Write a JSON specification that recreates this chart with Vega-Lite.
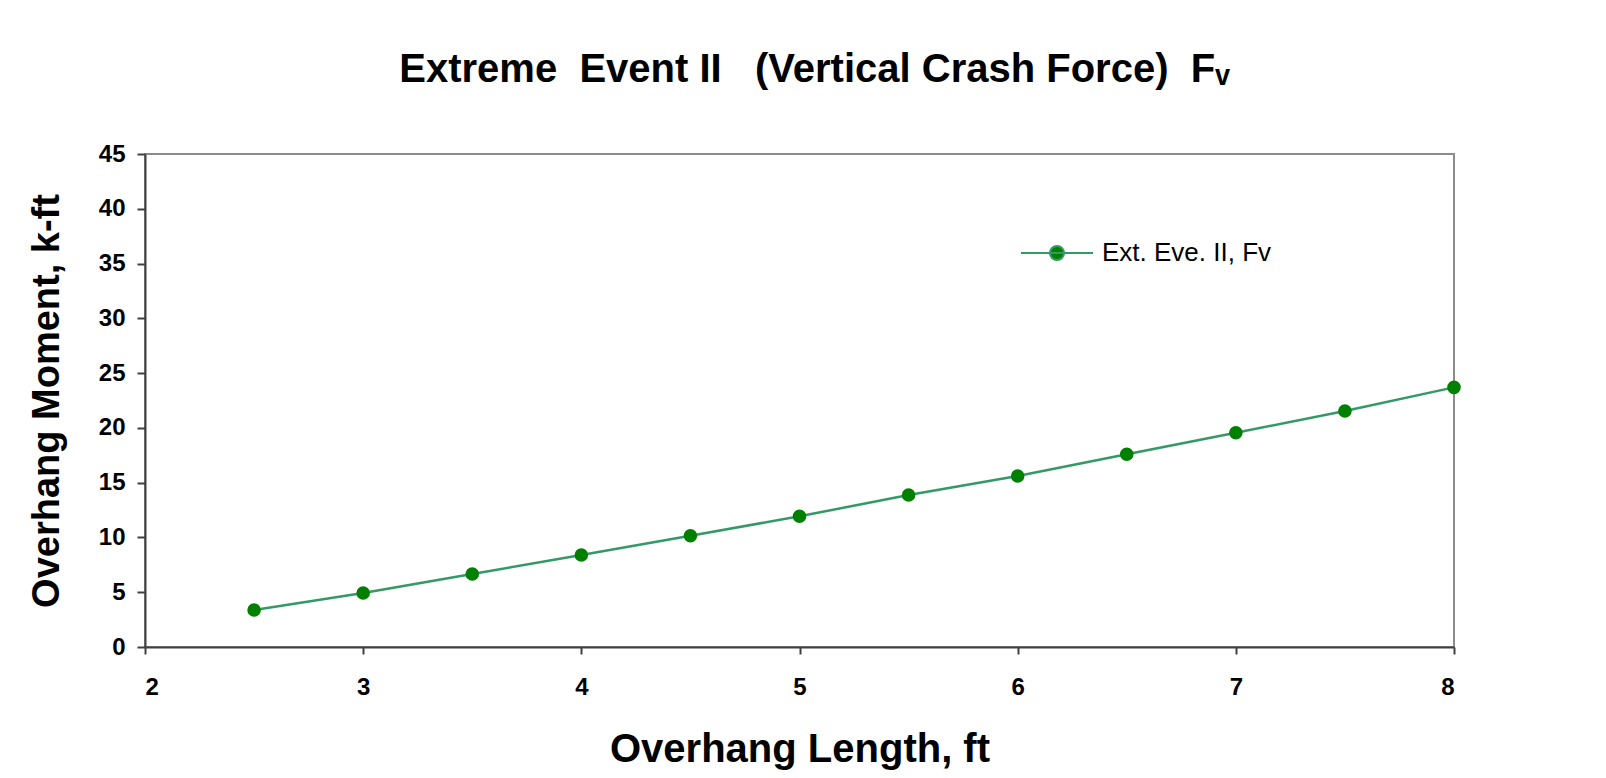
{
  "$schema": "https://vega.github.io/schema/vega-lite/v6.json",
  "autosize": {"type": "none"},
  "width": 1309,
  "height": 493,
  "padding": {"left": 145, "top": 154, "right": 152, "bottom": 131},
  "background": "white",
  "title": {
    "text": "Extreme\u00a0 Event II\u00a0\u00a0 (Vertical Crash Force)\u00a0 F\u1d65",
    "font": "Liberation Sans",
    "fontSize": 40,
    "fontWeight": "bold",
    "color": "black",
    "anchor": "middle",
    "frame": "group",
    "offset": 52,
    "dx": 15
  },
  "data": {
    "values": [
      {"length": 2.5, "moment": 3.38, "series": "Ext. Eve. II, Fv"},
      {"length": 3.0, "moment": 4.93, "series": "Ext. Eve. II, Fv"},
      {"length": 3.5, "moment": 6.66, "series": "Ext. Eve. II, Fv"},
      {"length": 4.0, "moment": 8.40, "series": "Ext. Eve. II, Fv"},
      {"length": 4.5, "moment": 10.16, "series": "Ext. Eve. II, Fv"},
      {"length": 5.0, "moment": 11.93, "series": "Ext. Eve. II, Fv"},
      {"length": 5.5, "moment": 13.87, "series": "Ext. Eve. II, Fv"},
      {"length": 6.0, "moment": 15.61, "series": "Ext. Eve. II, Fv"},
      {"length": 6.5, "moment": 17.59, "series": "Ext. Eve. II, Fv"},
      {"length": 7.0, "moment": 19.56, "series": "Ext. Eve. II, Fv"},
      {"length": 7.5, "moment": 21.54, "series": "Ext. Eve. II, Fv"},
      {"length": 8.0, "moment": 23.70, "series": "Ext. Eve. II, Fv"}
    ]
  },
  "encoding": {
    "x": {
      "field": "length",
      "type": "quantitative",
      "scale": {"domain": [2, 8], "nice": false, "zero": false},
      "axis": {
        "title": "Overhang Length, ft",
        "values": [2, 3, 4, 5, 6, 7, 8],
        "format": "d",
        "grid": false,
        "domainColor": "#404040",
        "domainWidth": 2,
        "tickColor": "#404040",
        "tickWidth": 2,
        "tickSize": 7,
        "labelFont": "Liberation Sans",
        "labelFontSize": 24,
        "labelFontWeight": "bold",
        "labelColor": "black",
        "labelPadding": 21,
        "titleFont": "Liberation Sans",
        "titleFontSize": 40,
        "titleFontWeight": "bold",
        "titleColor": "black",
        "titlePadding": 30
      }
    },
    "y": {
      "field": "moment",
      "type": "quantitative",
      "scale": {"domain": [0, 45], "nice": false},
      "axis": {
        "title": "Overhang Moment, k-ft",
        "values": [0, 5, 10, 15, 20, 25, 30, 35, 40, 45],
        "grid": false,
        "domainColor": "#404040",
        "domainWidth": 2,
        "tickColor": "#404040",
        "tickWidth": 2,
        "tickSize": 8,
        "labelFont": "Liberation Sans",
        "labelFontSize": 24,
        "labelFontWeight": "bold",
        "labelColor": "black",
        "labelPadding": 12,
        "titleFont": "Liberation Sans",
        "titleFontSize": 38,
        "titleFontWeight": "bold",
        "titleColor": "black",
        "titlePadding": 32
      }
    }
  },
  "layer": [
    {
      "mark": {"type": "line", "strokeWidth": 2.5},
      "encoding": {
        "color": {
          "field": "series",
          "type": "nominal",
          "scale": {"range": ["#339966"]},
          "legend": {
            "orient": "none",
            "legendX": 875,
            "legendY": 62,
            "title": null,
            "padding": 0,
            "symbolType": "M-1,0L1,0M-0.194,0A0.194,0.194 0 1,1 0.194,0A0.194,0.194 0 1,1 -0.194,0Z",
            "symbolSize": 5184,
            "symbolStrokeWidth": 2,
            "symbolStrokeColor": "#339966",
            "symbolFillColor": "#008000",
            "labelFont": "Liberation Sans",
            "labelFontSize": 26,
            "labelColor": "black",
            "labelOffset": 8,
            "labelLimit": 500,
            "encode": {"symbols": {"update": {"fill": {"value": "#008000"}, "stroke": {"value": "#339966"}, "opacity": {"value": 1}}}}
          }
        }
      }
    },
    {
      "mark": {"type": "circle", "size": 185, "color": "#008000", "opacity": 1}
    }
  ],
  "config": {
    "view": {"stroke": "#8c8c8c", "strokeWidth": 2}
  }
}
